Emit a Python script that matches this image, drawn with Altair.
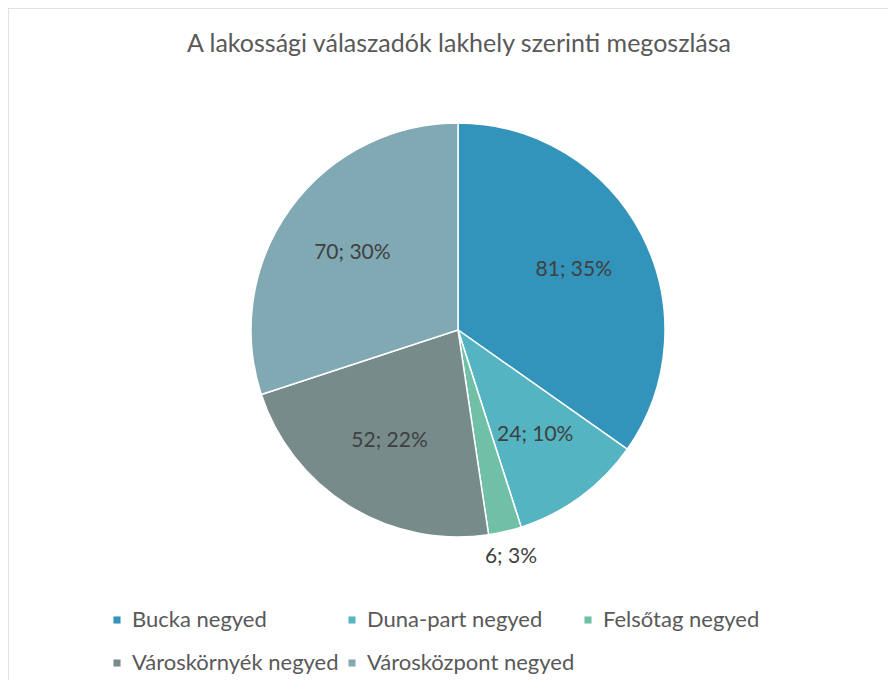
import altair as alt
import pandas as pd

categories = ["Bucka negyed", "Duna-part negyed", "Felsőtag negyed",
              "Városkörnyék negyed", "Városközpont negyed"]
values = [81, 24, 6, 52, 70]
percents = [35, 10, 3, 22, 30]
colors = ["#3293BB", "#55B4C1", "#70BFA7", "#778B8B", "#80A9B4"]

df = pd.DataFrame({
    "cat": categories,
    "value": values,
    "idx": list(range(len(categories))),
    "label": [f"{v}; {p}%" for v, p in zip(values, percents)],
})

W, H = 880, 672
CX, CY, R = 450, 322, 207
FONT = "Lato"

base = alt.Chart(df)

theta = alt.Theta("value:Q", stack=True)
order = alt.Order("idx:O")

pie = base.mark_arc(outerRadius=R, stroke="white", strokeWidth=1.5).encode(
    theta=theta,
    order=order,
    x=alt.value(CX),
    y=alt.value(CY),
    color=alt.Color(
        "cat:N",
        scale=alt.Scale(domain=categories, range=colors),
        legend=alt.Legend(
            title=None, orient="none", legendX=98, legendY=601,
            direction="horizontal", columns=3, symbolType="square",
            symbolSize=50, symbolStrokeWidth=0, labelFont=FONT,
            labelFontSize=22, labelColor="#595959", columnPadding=2,
            rowPadding=21, labelOffset=4, labelLimit=400,
        ),
    ),
)

small = "datum.value < 10"

labels_in = base.mark_text(font=FONT, fontSize=21, color="#404040",
                           radius=R * 0.63).encode(
    theta=theta,
    order=order,
    text=alt.condition(small, alt.value(""), alt.Text("label:N")),
    x=alt.value(CX),
    y=alt.value(CY),
)

labels_out = base.mark_text(font=FONT, fontSize=21, color="#404040",
                            radius=R + 26).encode(
    theta=theta,
    order=order,
    text=alt.condition(small, alt.Text("label:N"), alt.value("")),
    x=alt.value(CX),
    y=alt.value(CY),
)

one = alt.Chart(pd.DataFrame({"k": [0]}))
left_rule = one.mark_rule(color="#d9d9d9", strokeWidth=1.5).encode(
    x=alt.value(0), y=alt.value(0), y2=alt.value(H))
top_rule = one.mark_rule(color="#d9d9d9", strokeWidth=1.5).encode(
    x=alt.value(0), x2=alt.value(W), y=alt.value(0))

chart = alt.layer(left_rule, top_rule, pie, labels_in, labels_out).properties(
    width=W, height=H,
    autosize=alt.AutoSizeParams(type="none"),
    padding=0,
    title=alt.TitleParams(
        "A lakossági válaszadók lakhely szerinti megoszlása",
        font=FONT, fontSize=25, fontWeight="normal", color="#595959",
        anchor="middle", offset=-50, dx=11,
    ),
).configure_view(stroke=None)

chart.save("out.html", embed_options={"renderer": "svg", "actions": False})
